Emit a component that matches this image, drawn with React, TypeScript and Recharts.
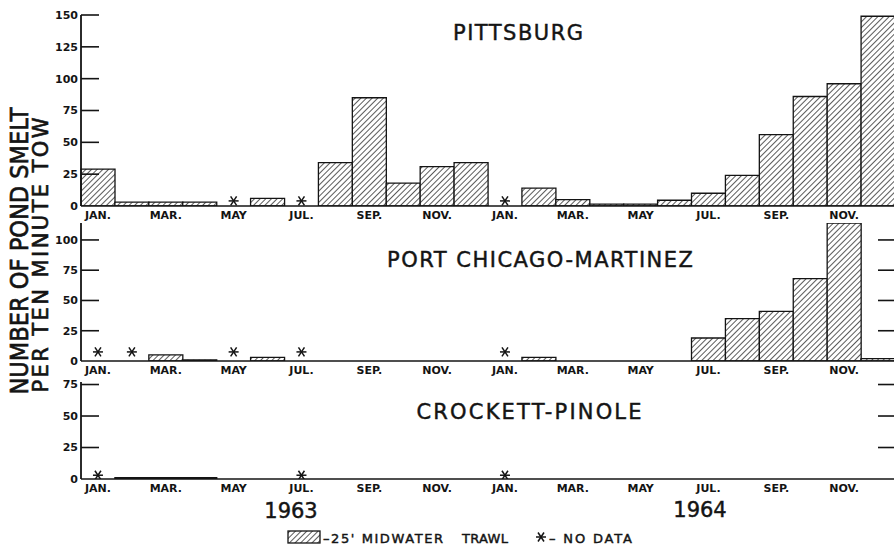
import { ComposedChart, Bar, Scatter, XAxis, YAxis } from 'recharts';

const MONTHS = ['JAN.', 'FEB.', 'MAR.', 'APR.', 'MAY', 'JUN.', 'JUL.', 'AUG.', 'SEP.', 'OCT.', 'NOV.', 'DEC.'];
const YEARS = ['1963', '1964'];
const CATS = YEARS.flatMap(y => MONTHS.map(m => `${m} ${y}`));

// number per ten minute tow, null = no data
const PITTSBURG = [29, 3, 3, 3, null, 6, null, 34, 85, 18, 31, 34, null, 14, 5, 1.5, 1.5, 4.5, 10, 24, 56, 86, 96, 149];
const PORT_CHICAGO = [null, null, 5, 1, null, 3, null, 0, 0, 0, 0, 0, null, 3, 0, 0, 0, 0, 19, 35, 41, 68, 114, 2];
const CROCKETT = [null, 1, 1, 1, 0, 0, null, 0, 0, 0, 0, 0, null, 0, 0, 0, 0, 0, 0, 0, 0, 0, 0, 0];

const NODATA_PITTSBURG = ['MAY 1963', 'JUL. 1963', 'JAN. 1964'];
const NODATA_PORT_CHICAGO = ['JAN. 1963', 'FEB. 1963', 'MAY 1963', 'JUL. 1963', 'JAN. 1964'];
const NODATA_CROCKETT = ['JAN. 1963', 'JUL. 1963', 'JAN. 1964'];

const TICKS_150 = [0, 25, 50, 75, 100, 125, 150];
const TICKS_100 = [0, 25, 50, 75, 100];
const TICKS_75 = [0, 25, 50, 75];

const INK = '#141414';
const FONT = '"DejaVu Sans", sans-serif';
const CHART_W = 900;
const MARGIN_R = 5;
const TICK_GAP = 3;

// asterisco de "sin dato"
const Star = (p: any) => {
  if (p.payload?.nd == null) return <g />;
  const { cx, cy } = p;
  const r = 5;
  return (
    <g stroke={INK} strokeWidth={1.5}>
      <line x1={cx - r} y1={cy} x2={cx + r} y2={cy} />
      <line x1={cx - r * 0.6} y1={cy - r * 0.9} x2={cx + r * 0.6} y2={cy + r * 0.9} />
      <line x1={cx - r * 0.6} y1={cy + r * 0.9} x2={cx + r * 0.6} y2={cy - r * 0.9} />
    </g>
  );
};

// etiqueta + marca hacia adentro (izq) y marca derecha opcional
function makeTick(rightTicks: number[]) {
  return (p: any) => {
    const v = p.payload.value;
    const ax = p.x + TICK_GAP;
    const rx = CHART_W - MARGIN_R;
    return (
      <g>
        <text x={p.x} y={p.y} dy="0.36em" textAnchor="end" fontSize={11} fontWeight="bold" fontFamily={FONT} fill={INK}>
          {v}
        </text>
        {v > 0 && <line x1={ax} x2={ax + 18} y1={p.y} y2={p.y} stroke={INK} strokeWidth={1.6} />}
        {rightTicks.includes(v) && <line x1={rx - 17} x2={rx} y1={p.y} y2={p.y} stroke={INK} strokeWidth={1.6} />}
      </g>
    );
  };
}

function Panel({
  top,
  height,
  values,
  noData,
  ndY,
  max,
  ticks,
  rightTicks = [],
  marginTop = 10,
}: {
  top: number;
  height: number;
  values: (number | null)[];
  noData: string[];
  ndY: number;
  max: number;
  ticks: number[];
  rightTicks?: number[];
  marginTop?: number;
}) {
  const rows = CATS.map((m, i) => ({ m, v: values[i], nd: noData.includes(m) ? ndY : null }));
  return (
    <div style={{ position: 'absolute', left: 0, top }}>
      <ComposedChart
        width={CHART_W}
        height={height}
        data={rows}
        margin={{ top: marginTop, right: MARGIN_R, bottom: 0, left: 0 }}
        barCategoryGap={0}
      >
        <XAxis
          dataKey="m"
          interval={1}
          tickFormatter={(s: string) => s.split(' ')[0]}
          tickLine={false}
          tickSize={3}
          height={20}
          axisLine={{ stroke: INK, strokeWidth: 1.6 }}
          tick={{ fill: INK, fontSize: 11, fontFamily: FONT, fontWeight: 'bold' }}
        />
        <YAxis
          domain={[0, max]}
          ticks={ticks}
          allowDataOverflow
          width={81}
          tickLine={false}
          tickSize={0}
          tickMargin={TICK_GAP}
          axisLine={{ stroke: INK, strokeWidth: 1.8 }}
          tick={makeTick(rightTicks)}
        />
        <Bar dataKey="v" fill="url(#hatch)" stroke={INK} strokeWidth={1.3} isAnimationActive={false} />
        <Scatter dataKey="nd" shape={Star} isAnimationActive={false} />
      </ComposedChart>
    </div>
  );
}

export default function App() {
  const txt = { fill: INK, fontFamily: FONT };
  const bold = { stroke: INK, strokeWidth: 0.45 };
  return (
    <div style={{ position: 'absolute', left: 0, top: 0, width: 894, height: 548, overflow: 'hidden', background: '#fff' }}>
      <svg width={0} height={0} style={{ position: 'absolute' }}>
        <defs>
          <pattern id="hatch" patternUnits="userSpaceOnUse" width={4} height={4} patternTransform="rotate(45)">
            <rect width={4} height={4} fill="#fff" />
            <line x1={0} y1={0} x2={0} y2={4} stroke={INK} strokeWidth={1.4} />
          </pattern>
        </defs>
      </svg>

      <Panel top={0} height={226} marginTop={15} values={PITTSBURG} noData={NODATA_PITTSBURG} ndY={4}
        max={150} ticks={TICKS_150} />
      <Panel top={213} height={168} values={PORT_CHICAGO} noData={NODATA_PORT_CHICAGO} ndY={7.5}
        max={114} ticks={TICKS_100} rightTicks={[25, 50, 75, 100]} />
      <Panel top={372} height={127} values={CROCKETT} noData={NODATA_CROCKETT} ndY={3}
        max={77} ticks={TICKS_75} rightTicks={[25, 50, 75]} />

      {/* titulos, ejes y leyenda */}
      <svg width={894} height={548} style={{ position: 'absolute', left: 0, top: 0, pointerEvents: 'none' }}>
        <text x={518} y={40} textAnchor="middle" fontSize={21} textLength={130} {...txt} {...bold}>PITTSBURG</text>
        <text x={540} y={267} textAnchor="middle" fontSize={21} textLength={306} {...txt} {...bold}>PORT CHICAGO-MARTINEZ</text>
        <text x={529} y={419} textAnchor="middle" fontSize={21} textLength={225} {...txt} {...bold}>CROCKETT-PINOLE</text>

        <text x={28} y={251} transform="rotate(-90 28 251)" textAnchor="middle" fontSize={25} textLength={287}
          lengthAdjust="spacingAndGlyphs" {...txt} stroke={INK} strokeWidth={0.7}>
          NUMBER OF POND SMELT
        </text>
        <text x={48} y={255} transform="rotate(-90 48 255)" textAnchor="middle" fontSize={21} textLength={275}
          {...txt} stroke={INK} strokeWidth={0.6}>
          PER TEN MINUTE TOW
        </text>

        <text x={291} y={518} textAnchor="middle" fontSize={21} {...txt} {...bold}>1963</text>
        <text x={700} y={517} textAnchor="middle" fontSize={21} {...txt} {...bold}>1964</text>

        <rect x={288} y={531} width={32} height={12} fill="url(#hatch)" stroke={INK} strokeWidth={1.3} />
        <text x={323} y={543} fontSize={13} textLength={120} {...txt} {...bold}>–25' MIDWATER</text>
        <text x={462} y={543} fontSize={13} textLength={46} {...txt} {...bold}>TRAWL</text>
        <Star cx={541} cy={537} payload={{ nd: 1 }} />
        <text x={549} y={543} fontSize={13} textLength={83} {...txt} {...bold}>– NO DATA</text>
      </svg>
    </div>
  );
}
